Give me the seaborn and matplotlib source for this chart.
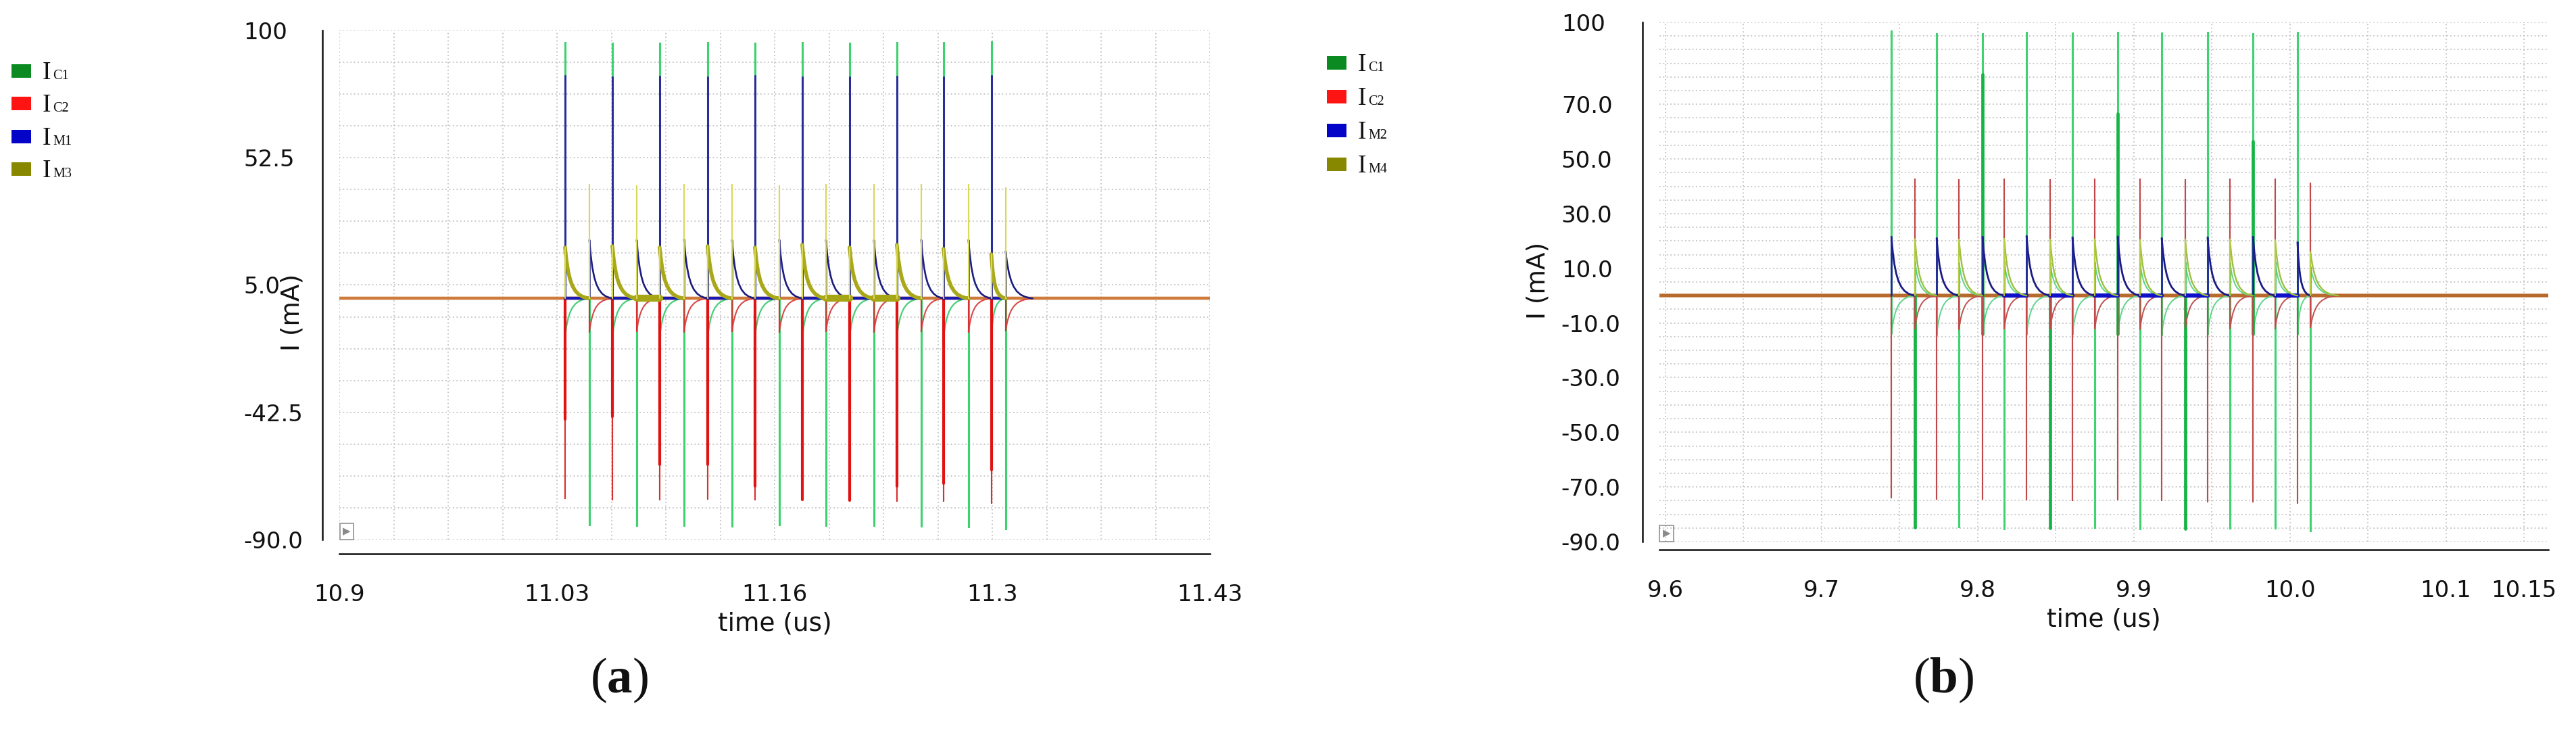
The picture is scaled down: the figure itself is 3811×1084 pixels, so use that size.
import numpy as np
import pandas as pd
import matplotlib
matplotlib.use("Agg")
import matplotlib.pyplot as plt
from matplotlib.patches import Rectangle
from matplotlib.ticker import FixedLocator, FixedFormatter, NullFormatter
import seaborn as sns

# ------------------------------------------------------------------
# data
# ------------------------------------------------------------------
# panel (a): time axis in us, currents in mA
a_t_main   = [11.0374, 11.0662, 11.0950, 11.1242, 11.1530, 11.1818, 11.2106, 11.2394, 11.2678, 11.2969]
a_t_second = [11.0522, 11.0810, 11.1098, 11.1390, 11.1678, 11.1962, 11.2254, 11.2542, 11.2830, 11.3056]
a_t_tail   = 11.322
a_ic1_up    = [95.5, 95.3, 95.3, 95.4, 95.3, 95.5, 95.3, 95.4, 95.5, 95.6]
a_ic1_down  = [-84.5, -84.8, -84.6, -84.9, -84.5, -84.8, -84.7, -85.0, -85.1, -86.0]
a_ic1_neg   = [-14.0, -14.2, -14.0, -14.1, -14.0, -14.2, -14.1, -14.0, -14.1, -13.5]
a_ic2_down  = [-74.5, -75.2, -75.0, -74.8, -75.0, -75.2, -75.4, -75.6, -75.5, -76.5]
a_ic2_thick = [-45.0, -44.0, -62.0, -62.0, -70.0, -75.2, -75.4, -70.0, -69.0, -64.0]
a_ic2_pos   = [18.5, 18.0, 18.3, 18.0, 18.2, 18.4, 18.0, 18.5, 18.0, 17.0]
a_ic2_neg   = [-12.5, -12.3, -12.5, -12.4, -12.6, -12.3, -12.5, -12.4, -12.5, -12.0]
a_im1_up    = [83.0, 82.5, 82.8, 82.5, 83.0, 82.7, 82.6, 82.8, 82.5, 83.0]
a_im1_small = [21.8, 21.8, 22.0, 21.8, 21.9, 21.8, 21.7, 21.9, 21.8, 17.5]
a_im3_up    = [42.5, 42.0, 42.5, 42.5, 42.0, 42.5, 42.5, 42.5, 42.5, 41.3]
a_im3_decay = [19.0, 19.5, 19.0, 19.5, 19.0, 20.0, 19.0, 20.0, 18.5, 16.5]
a_im3_band_after = [1, 5, 6]          # second pulses followed by a thick IM3 band

# panel (b)
b_t_green = [9.7447, 9.7737, 9.8031, 9.8313, 9.8607, 9.8897, 9.9179, 9.9473, 9.9764, 10.0049]
b_t_red   = [9.7598, 9.7880, 9.8170, 9.8464, 9.8750, 9.9040, 9.9330, 9.9616, 9.9906, 10.0132]
b_t_tail  = 10.031
b_ic1_up   = [96.8, 95.9, 95.9, 96.2, 96.0, 96.3, 96.0, 96.2, 95.9, 96.3]
b_ic1_down = [-84.7, -84.6, -85.3, -85.0, -84.8, -85.3, -85.2, -85.1, -85.0, -86.0]
b_ic1_neg  = [-13.9, -14.2, -14.0, -14.0, -14.1, -14.0, -14.2, -14.0, -14.1, -14.0]
b_ic1_pos  = [12.4, 12.0, 12.3, 12.0, 12.2, 12.0, 12.1, 12.0, 12.2, 10.5]
b_ic1_dark_up_idx = [2, 5, 8]          # green pulses with a darker, heavier lower part
b_ic1_dark_up_top = [81.0, 66.5, 56.5]
b_ic1_dark_down_idx = [0, 3, 6]        # red-time IC1 pulses drawn heavier
b_ic2_down = [-73.9, -74.3, -74.5, -74.6, -75.0, -74.6, -75.0, -75.3, -75.4, -75.8]
b_ic2_up   = [42.5, 42.3, 42.5, 42.3, 42.5, 42.6, 42.3, 42.5, 42.5, 41.2]
b_ic2_neg  = [-12.0, -12.2, -12.0, -12.1, -12.0, -12.2, -12.0, -12.1, -12.0, -11.5]
b_im2_up   = [21.5, 21.0, 21.5, 21.8, 21.3, 21.6, 21.0, 21.3, 21.5, 19.5]
b_im4_up   = [20.7, 20.5, 20.8, 20.5, 20.6, 20.4, 20.5, 20.6, 20.3, 16.0]
b_im2_band_after = [2, 3, 4, 5, 6, 8]  # red pulses followed by a thick IM2 band

# recovery shape of the traces (fraction of interval -> fraction of start value)
decay_frac_t = [0.0, 0.06, 0.13, 0.21, 0.30, 0.42, 0.56, 0.72, 0.88, 1.0]
decay_frac_v = [1.0, 0.74, 0.53, 0.37, 0.25, 0.15, 0.08, 0.035, 0.01, 0.0]

# axes
a_xlim = (10.9, 11.43)
a_xticks = [10.9, 11.0325, 11.165, 11.2975, 11.43]
a_xticklabels = ["10.9", "11.03", "11.16", "11.3", "11.43"]
a_yticks = [100, 52.5, 5.0, -42.5, -90.0]
a_yticklabels = ["100", "52.5", "5.0", "-42.5", "-90.0"]
b_xlim = (9.596, 10.1656)
b_xticklabels = {9.6: "9.6", 9.7: "9.7", 9.8: "9.8", 9.9: "9.9", 10.0: "10.0", 10.1: "10.1", 10.15: "10.15"}
b_yticklabels = {100: "100", 70: "70.0", 50: "50.0", 30: "30.0", 10: "10.0", -10: "-10.0",
                 -30: "-30.0", -50: "-50.0", -70: "-70.0", -90: "-90.0"}
ylim = (-90, 100)

a_legend = ["C1", "C2", "M1", "M3"]
b_legend = ["C1", "C2", "M2", "M4"]
legend_colors = ["#0b8a22", "#ff1414", "#0404c8", "#888800"]

# ------------------------------------------------------------------
# long-form table of trace pieces
# ------------------------------------------------------------------
rows = []
seg_id = [0]


def add(panel, series, kind, ts, vs):
    seg_id[0] += 1
    for t, v in zip(ts, vs):
        rows.append((panel, series, kind, seg_id[0], t, v))


def spike(panel, series, t, levels, kind="spike"):
    add(panel, series, kind, [t] * len(levels), levels)


def decay(panel, series, t0, t1, v0, kind="decay"):
    ts = [t0 + f * (t1 - t0) for f in decay_frac_t]
    vs = [v0 * g for g in decay_frac_v]
    add(panel, series, kind, ts, vs)


def band(panel, series, t0, t1):
    add(panel, series, "band", [t0, t1], [0.0, 0.0])


for s in ["IC1", "IC2", "IM1", "IM3"]:
    add("a", s, "base", list(a_xlim), [0.0, 0.0])
for s in ["IC1", "IC2", "IM2", "IM4"]:
    add("b", s, "base", list(b_xlim), [0.0, 0.0])

n = len(a_t_main)
for i in range(n):
    tm, t2 = a_t_main[i], a_t_second[i]
    tn = a_t_main[i + 1] if i + 1 < n else a_t_tail
    # IC1
    spike("a", "IC1", tm, [0, a_ic1_up[i], a_ic1_neg[i]])
    decay("a", "IC1", tm, t2, a_ic1_neg[i])
    spike("a", "IC1", t2, [0, a_ic1_down[i], 0])
    # IC2
    spike("a", "IC2", tm, [0, a_ic2_down[i], a_ic2_pos[i]])
    spike("a", "IC2", tm, [0, a_ic2_thick[i]], kind="heavy")
    decay("a", "IC2", tm, t2, a_ic2_pos[i])
    spike("a", "IC2", t2, [0, a_ic2_neg[i]])
    decay("a", "IC2", t2, tn, a_ic2_neg[i])
    # IM1
    spike("a", "IM1", tm, [0, a_im1_up[i], 0])
    band("a", "IM1", tm, t2)
    spike("a", "IM1", t2, [0, a_im1_small[i]])
    decay("a", "IM1", t2, tn, a_im1_small[i])
    # IM3
    spike("a", "IM3", tm, [0, a_im3_decay[i]])
    decay("a", "IM3", tm, t2, a_im3_decay[i])
    spike("a", "IM3", t2, [0, a_im3_up[i], 0])
    if i in a_im3_band_after:
        band("a", "IM3", t2, tn)

n = len(b_t_green)
for i in range(n):
    tg, tr = b_t_green[i], b_t_red[i]
    tn = b_t_green[i + 1] if i + 1 < n else b_t_tail
    # IC1
    spike("b", "IC1", tg, [0, b_ic1_up[i], b_ic1_neg[i]])
    decay("b", "IC1", tg, tr, b_ic1_neg[i])
    spike("b", "IC1", tr, [0, b_ic1_down[i], b_ic1_pos[i]])
    decay("b", "IC1", tr, tn, b_ic1_pos[i])
    if i in b_ic1_dark_up_idx:
        spike("b", "IC1", tg, [b_ic1_neg[i], b_ic1_dark_up_top[b_ic1_dark_up_idx.index(i)]], kind="heavy")
    if i in b_ic1_dark_down_idx:
        spike("b", "IC1", tr, [0, b_ic1_down[i]], kind="heavy")
    # IC2
    spike("b", "IC2", tg, [0, b_ic2_down[i], 0])
    spike("b", "IC2", tr, [0, b_ic2_up[i], b_ic2_neg[i]])
    decay("b", "IC2", tr, tn, b_ic2_neg[i])
    # IM2
    spike("b", "IM2", tg, [0, b_im2_up[i]])
    decay("b", "IM2", tg, tr, b_im2_up[i])
    if i in b_im2_band_after:
        band("b", "IM2", tr, tn)
    # IM4
    spike("b", "IM4", tr, [0, b_im4_up[i]])
    decay("b", "IM4", tr, tn, b_im4_up[i])

df = pd.DataFrame(rows, columns=["panel", "series", "kind", "seg", "t", "I"])

styles = {
    "a": {
        "IC1": {"spike": ("#3ed170", 2.2), "decay": ("#46cf7a", 1.6)},
        "IC2": {"spike": ("#d83030", 1.5), "heavy": ("#e01212", 3.0), "decay": ("#d94848", 1.5)},
        "IM1": {"spike": ("#2b2b99", 1.9), "decay": ("#1d1d80", 1.9), "band": ("#1a1ab0", 3.2)},
        "IM3": {"spike": ("#d8d85a", 1.5), "decay": ("#a8a818", 4.0), "band": ("#a5a515", 7.5)},
        "order": ["IC1", "IC2", "IM1", "IM3"],
        "base": ("#d07a3a", 3.0),
    },
    "b": {
        "IC1": {"spike": ("#3fd172", 2.2), "heavy": ("#14b545", 3.4), "decay": ("#5fd48a", 1.4)},
        "IC2": {"spike": ("#c04848", 1.5), "decay": ("#c05050", 1.4)},
        "IM2": {"spike": ("#1f1f99", 1.9), "decay": ("#1b1b85", 2.0), "band": ("#1010c8", 4.5)},
        "IM4": {"spike": ("#b5cc40", 1.5), "decay": ("#9cc040", 1.7)},
        "order": ["IC1", "IC2", "IM2", "IM4"],
        "base": ("#b86a2c", 3.2),
    },
}

# ------------------------------------------------------------------
# figure
# ------------------------------------------------------------------
sns.set_style("white")
plt.rcParams["font.family"] = ["DejaVu Sans"]
plt.rcParams["mathtext.fontset"] = "custom"
plt.rcParams["mathtext.rm"] = "Liberation Serif"
plt.rcParams["mathtext.bf"] = "Liberation Serif:bold"

W, H = 3812, 1084
fig = plt.figure(figsize=(W / 100, H / 100), dpi=100)
fig.patch.set_facecolor("white")


def px_axes(x0, x1, ytop, ybot):
    return [x0 / W, 1 - ybot / H, (x1 - x0) / W, (ybot - ytop) / H]


axa = fig.add_axes(px_axes(502, 1790, 45, 798))
axb = fig.add_axes(px_axes(2454.8, 3770, 33, 801))

for ax, p in [(axa, "a"), (axb, "b")]:
    d = df[df.panel == p]
    st = styles[p]
    basec, basew = st["base"]
    sns.lineplot(data=d[d.kind == "base"], x="t", y="I", units="seg", estimator=None,
                 sort=False, color=basec, linewidth=basew, ax=ax, legend=False)
    for s in st["order"]:
        for kind in ["band", "decay", "spike", "heavy"]:
            sub = d[(d.series == s) & (d.kind == kind)]
            if sub.empty:
                continue
            c, lw = st[s][kind]
            sns.lineplot(data=sub, x="t", y="I", units="seg", estimator=None, sort=False,
                         color=c, linewidth=lw, ax=ax, legend=False)

# ---- common axis styling
for ax in (axa, axb):
    ax.set_facecolor("white")
    ax.set_ylim(*ylim)
    for s in ["top", "right"]:
        ax.spines[s].set_visible(False)
    for s in ["left", "bottom"]:
        ax.spines[s].set_color("#111111")
        ax.spines[s].set_linewidth(1.8)
    ax.set_xlabel("time (us)", fontsize=27, color="#111111")
    ax.set_ylabel("I (mA)", fontsize=27, color="#111111")

# ---- panel (a) axes
axa.set_xlim(*a_xlim)
axa.spines["left"].set_position(("outward", 18))
axa.spines["bottom"].set_position(("outward", 15))
axa.xaxis.set_major_locator(FixedLocator(a_xticks))
axa.xaxis.set_major_formatter(FixedFormatter(a_xticklabels))
axa.xaxis.set_minor_locator(FixedLocator([a_xlim[0] + k * 0.033125 for k in range(17) if k % 4]))
axa.yaxis.set_major_locator(FixedLocator(a_yticks))
axa.yaxis.set_major_formatter(FixedFormatter(a_yticklabels))
axa.yaxis.set_minor_locator(FixedLocator([-90 + k * 11.875 for k in range(17) if k % 4]))
axa.tick_params(axis="x", which="major", direction="out", length=18, width=1.6, pad=14,
                labelsize=24.5, colors="#111111")
axa.tick_params(axis="x", which="minor", direction="out", length=13, width=1.5)
axa.tick_params(axis="y", which="major", direction="out", length=16.5, width=1.6, pad=67.7,
                labelsize=24.5, colors="#111111")
axa.tick_params(axis="y", which="minor", direction="out", length=12, width=1.5)
for lab in axa.get_yticklabels():
    lab.set_horizontalalignment("left")
axa.grid(which="both", linestyle=(0, (1, 2)), color="#c2c2c2", linewidth=1.3)
axa.set_axisbelow(True)
axa.yaxis.set_label_coords((433 - 502) / 1288, (798 - 462) / 753)
axa.yaxis.label.set_va("center")
axa.xaxis.set_label_coords(0.5, -0.165)
axa.xaxis.label.set_va("center")

# ---- panel (b) axes
axb.set_xlim(*b_xlim)
axb.spines["left"].set_position(("outward", 18))
axb.spines["bottom"].set_position(("outward", 8.6))
b_xmaj = [round(9.6 + k * 0.05, 3) for k in range(12)]
b_xmin = [round(9.6 + k * 0.005, 4) for k in range(114) if k % 10]
b_ymaj = list(range(-90, 101, 5))
b_ymin = [v for v in range(-90, 101) if v % 5]
axb.xaxis.set_major_locator(FixedLocator(b_xmaj))
axb.xaxis.set_major_formatter(FixedFormatter([b_xticklabels.get(v, "") for v in b_xmaj]))
axb.xaxis.set_minor_locator(FixedLocator(b_xmin))
axb.xaxis.set_minor_formatter(NullFormatter())
axb.yaxis.set_major_locator(FixedLocator(b_ymaj))
axb.yaxis.set_major_formatter(FixedFormatter([b_yticklabels.get(v, "") for v in b_ymaj]))
axb.yaxis.set_minor_locator(FixedLocator(b_ymin))
axb.yaxis.set_minor_formatter(NullFormatter())
axb.tick_params(axis="x", which="major", direction="out", length=18, width=1.6, pad=14,
                labelsize=24.5, colors="#111111")
axb.tick_params(axis="x", which="minor", direction="out", length=12, width=1.3)
axb.tick_params(axis="y", which="major", direction="out", length=16.5, width=1.6, pad=69.9,
                labelsize=24.5, colors="#111111")
axb.tick_params(axis="y", which="minor", direction="out", length=5.8, width=1.3)
for lab in axb.get_yticklabels():
    lab.set_horizontalalignment("left")
for tk, v in zip(axb.yaxis.get_major_ticks(len(b_ymaj)), b_ymaj):
    if v % 10:
        tk.tick1line.set_markersize(11)
for tk, v in zip(axb.xaxis.get_minor_ticks(len(b_xmin)), b_xmin):
    if round(v * 1000) % 10 == 5:
        tk.tick1line.set_markersize(6)
axb.grid(which="major", linestyle=(0, (1, 2)), color="#c2c2c2", linewidth=1.3)
axb.set_axisbelow(True)
axb.yaxis.set_label_coords(-0.136, 0.503)
axb.yaxis.label.set_va("center")
axb.xaxis.set_label_coords(0.5, -0.15)
axb.xaxis.label.set_va("center")

# small marker box in the lower left corner of each plot
for ax in (axa, axb):
    ax.text(0.004, 0.006, "\u25B6", transform=ax.transAxes, fontsize=11, color="#8a8a8a",
            ha="left", va="bottom",
            bbox=dict(boxstyle="square,pad=0.3", fc="none", ec="#9a9a9a", lw=1.3))

# ---- legends
def draw_legend(x_sq, y_centers, subs):
    for yc, sub, col in zip(y_centers, subs, legend_colors):
        fig.add_artist(Rectangle((x_sq / W, 1 - (yc + 10) / H), 29 / W, 20 / H,
                                 transform=fig.transFigure, facecolor=col, edgecolor="none"))
        fig.text((x_sq + 46) / W, 1 - (yc + 12) / H, "I", fontsize=27,
                 family="Liberation Serif", va="baseline", ha="left", color="#111111")
        fig.text((x_sq + 61) / W, 1 - (yc + 12) / H, sub, fontsize=14.5,
                 family="Liberation Serif", va="baseline", ha="left", color="#111111")


draw_legend(17, [105, 153, 202, 250], a_legend)
draw_legend(1963, [93, 143, 193, 243], b_legend)

# ---- panel captions
fig.text(916 / W, 1 - 1005 / H, r"$\mathrm{(}\mathbf{a}\mathrm{)}$", fontsize=54,
         ha="center", va="center", color="#111111")
fig.text(2875 / W, 1 - 1005 / H, r"$\mathrm{(}\mathbf{b}\mathrm{)}$", fontsize=54,
         ha="center", va="center", color="#111111")

fig.savefig("out.png", dpi=100, facecolor="white")
